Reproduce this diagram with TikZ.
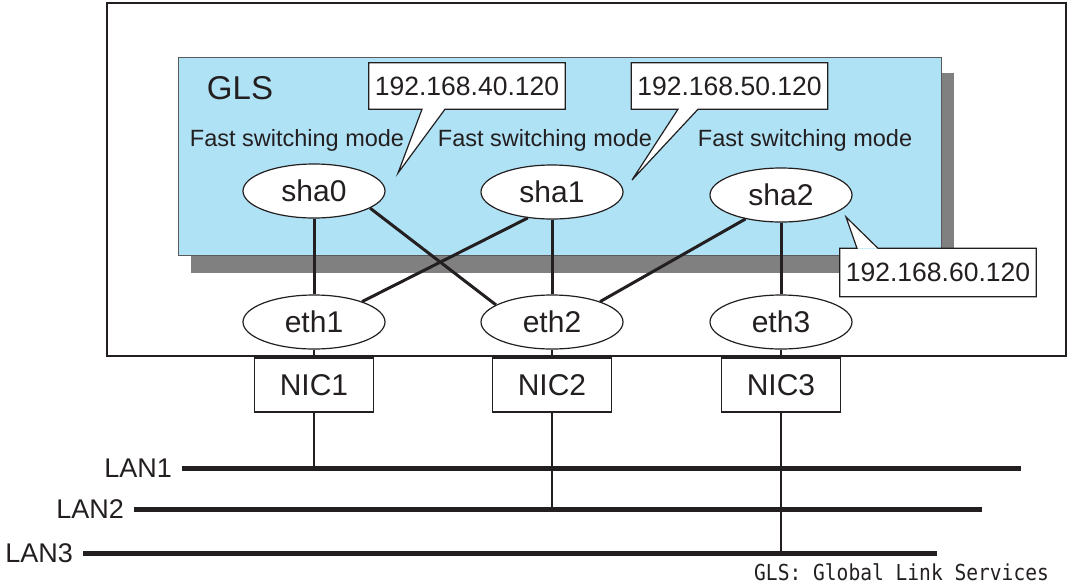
\documentclass[tikz,border=0pt]{standalone}
\usepackage{fontspec}
\setmainfont{Liberation Sans}
\newfontfamily\notefont{DejaVu Sans Mono}
\usetikzlibrary{positioning, calc, shapes.geometric}
\definecolor{cline}{HTML}{231F20}
\definecolor{glsblue}{HTML}{B0E2F5}
\definecolor{cshadow}{HTML}{808080}
\definecolor{cborder}{HTML}{5A5A5A}
\newcommand{\fsz}[1]{\fontsize{#1}{#1}\selectfont}

\begin{document}
\begin{tikzpicture}[x=1pt, y=-1pt,
  every node/.style={text=cline},
  port/.style={ellipse, draw=cline, line width=1.2pt, fill=white, minimum width=142pt, minimum height=54pt, inner sep=0pt, font=\fsz{30}},
  nicbox/.style={draw=cline, line width=1.2pt, fill=white, minimum width=119pt, minimum height=54pt, inner sep=0pt, font=\fsz{30}},
  ipbox/.style={fill=white, minimum width=196pt, minimum height=46pt, inner sep=0pt, font=\fsz{26.5}},
  callout/.style={draw=cline, line width=1.2pt, line join=miter},
  link/.style={cline, line width=3pt},
  wire/.style={cline, line width=1.2pt},
  lan/.style={cline, line width=5pt},
  modelabel/.style={font=\fsz{23.5}, anchor=base, inner sep=0pt},
  lanlabel/.style={font=\fsz{27}, inner sep=0pt}]
  \useasboundingbox (0,0) rectangle (1070,587);
  \draw[cline, line width=1.5pt] (107,3) rectangle (1066,356);
  \fill[cshadow] (191,73) rectangle (954,273);
  \draw[cborder, fill=glsblue, line width=1pt] (178,57) rectangle (941,255);
  \node[font=\fsz{33}, anchor=base, inner sep=0pt] (gls) at (240,99) {GLS};
  \foreach \x [count=\i] in {297,545,805}
    \node[modelabel] (mode\i) at (\x,146) {Fast switching mode};
  \foreach \i/\x/\y in {0/314/191, 1/552/192, 2/781/195}
    \node[port] (sha\i) at (\x,\y) {sha\i};
  \foreach \i/\x in {1/314, 2/552, 3/781}{
    \node[port] (eth\i) at (\x,322) {eth\i};
    \node[nicbox] (nic\i) at (\x,385) {NIC\i};
  }
  \draw[link] (sha0) -- (eth1);
  \draw[link] (sha0.-17) -- (eth2.163);
  \draw[link] (sha1.-133) -- (eth1.23);
  \draw[link] (sha1) -- (eth2);
  \draw[link] (sha2.-146) -- (eth2.23);
  \draw[link] (sha2) -- (eth3);
  \foreach \i/\y/\a/\b in {1/468/182/1021, 2/509/134/982, 3/553/83/937}{
    \coordinate (lanw\i) at (\a,\y);
    \coordinate (lane\i) at (\b,\y);
    \draw[lan] (lanw\i) -- (lane\i);
    \node[lanlabel, left=10pt of lanw\i] (lanlab\i) {LAN\i};
    \draw[wire] (eth\i) -- (nic\i);
    \draw[wire] (nic\i) -- (nic\i |- lanw\i);
  }
  \node[ipbox] (ip40) at (467,86) {192.168.40.120};
  \fill[white] (ip40.south -| 422,0) -- (398,173) -- (ip40.south -| 445,0) -- cycle;
  \draw[callout] (ip40.south -| 422,0) -- (ip40.south west) -- (ip40.north west) -- (ip40.north east)
    -- (ip40.south east) -- (ip40.south -| 445,0) -- (398,173) -- cycle;
  \node[ipbox] (ip50) at (729.5,86) {192.168.50.120};
  \fill[white] (ip50.south -| 678,0) -- (632,180) -- (ip50.south -| 698,0) -- cycle;
  \draw[callout] (ip50.south -| 678,0) -- (ip50.south west) -- (ip50.north west) -- (ip50.north east)
    -- (ip50.south east) -- (ip50.south -| 698,0) -- (632,180) -- cycle;
  \node[ipbox, minimum height=48pt] (ip60) at (938,272.5) {192.168.60.120};
  \fill[white] (ip60.north -| 857,0) -- (846,217) -- (ip60.north -| 878,0) -- cycle;
  \draw[callout] (ip60.north -| 857,0) -- (ip60.north west) -- (ip60.south west) -- (ip60.south east)
    -- (ip60.north east) -- (ip60.north -| 878,0) -- (846,217) -- cycle;
  \node[font=\notefont\fsz{22}, anchor=base west, inner sep=0pt] (note) at (754,580)
    {\scalebox{0.89}[1]{GLS: Global Link Services}};
\end{tikzpicture}
\end{document}
